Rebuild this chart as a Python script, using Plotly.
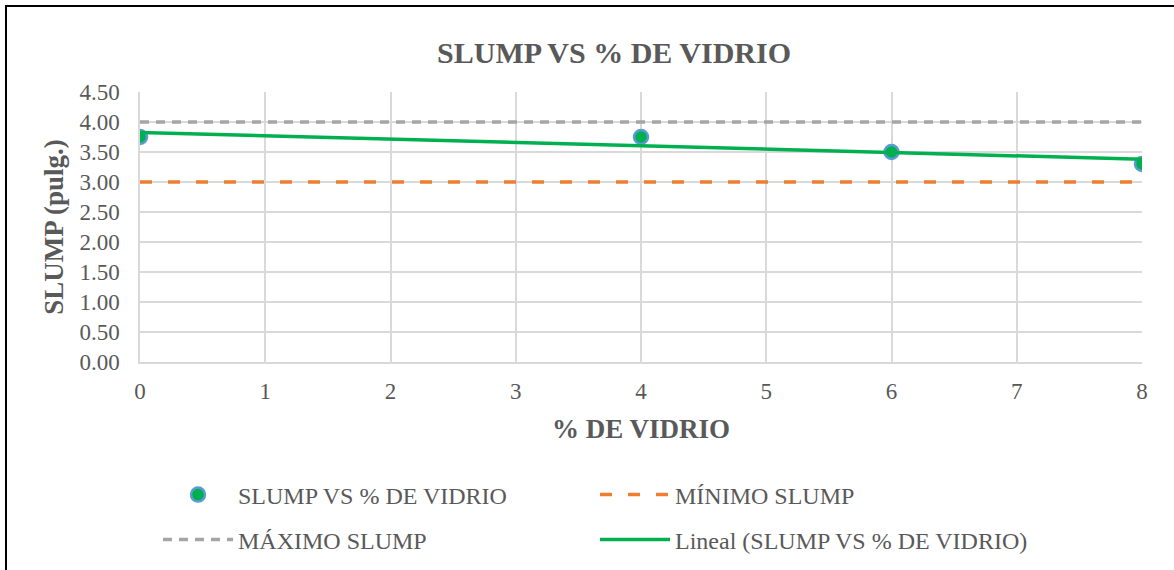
import numpy as np
import plotly.graph_objects as go

# Data
vidrio = [0, 4, 6, 8]
slump = [3.75, 3.75, 3.5, 3.3]
limit_x = [0, 8]
min_slump = [3.0, 3.0]
max_slump = [4.0, 4.0]
y_ticks = [0, 0.5, 1.0, 1.5, 2.0, 2.5, 3.0, 3.5, 4.0, 4.5]
x_ticks = [0, 1, 2, 3, 4, 5, 6, 7, 8]

# Linear trendline from the data
coef = np.polyfit(vidrio, slump, 1)
trend_x = [0, 8]
trend_y = list(np.polyval(coef, trend_x))

W, H = 1174, 570
L, R, T, B = 140, 32, 92, 208
pw, ph = W - L - R, H - T - B

FONT = "Liberation Serif, Times New Roman, serif"
TXT = "#595959"

fig = go.Figure()
fig.add_trace(go.Scatter(
    x=vidrio, y=slump, mode="markers", name="SLUMP VS % DE VIDRIO", legend="legend",
    marker=dict(size=14, color="#00B050", line=dict(color="#5B9BD5", width=2.5)),
))
fig.add_trace(go.Scatter(
    x=limit_x, y=min_slump, mode="lines", name="MÍNIMO SLUMP", legend="legend",
    line=dict(color="#ED7D31", width=3.5, dash="12px,16px"),
))
fig.add_trace(go.Scatter(
    x=limit_x, y=max_slump, mode="lines", name="MÁXIMO SLUMP", legend="legend2",
    line=dict(color="#A5A5A5", width=3.5, dash="9px,7px"),
))
fig.add_trace(go.Scatter(
    x=trend_x, y=trend_y, mode="lines", name="Lineal (SLUMP VS % DE VIDRIO)", legend="legend2",
    line=dict(color="#00B050", width=3.5),
))

# outer frame
fig.add_shape(
    type="rect", xref="paper", yref="paper",
    x0=(6 - L) / pw, x1=(W + 20 - L) / pw,
    y0=(H - B - (H + 20)) / ph, y1=(H - B - 6) / ph,
    line=dict(color="black", width=2), layer="below",
)

leg_common = dict(
    orientation="h", xref="container", yref="container",
    x=158 / W, xanchor="left", yanchor="middle",
    entrywidth=352, entrywidthmode="pixels", itemwidth=70,
    font=dict(size=24, color=TXT, family=FONT), bgcolor="rgba(0,0,0,0)",
)

fig.update_layout(
    width=W, height=H,
    margin=dict(l=L, r=R, t=T, b=B, autoexpand=False),
    paper_bgcolor="white", plot_bgcolor="white",
    font=dict(family=FONT, color=TXT, size=23),
    title=dict(text="<b>SLUMP VS % DE VIDRIO</b>", x=614 / W, xanchor="center",
               y=1 - 52 / H, yanchor="middle", font=dict(size=30, color=TXT, family=FONT)),
    xaxis=dict(
        range=[0, 8], tickvals=x_ticks, showgrid=True, gridcolor="#D9D9D9", gridwidth=1.5,
        zeroline=False, showline=True, linecolor="#D9D9D9", linewidth=1.5,
        ticks="", tickfont=dict(size=23, color=TXT), ticklabelstandoff=8,
        title=dict(text="<b>% DE VIDRIO</b>", font=dict(size=27, color=TXT), standoff=16),
    ),
    yaxis=dict(
        range=[0, 4.5], tickvals=y_ticks, tickformat=".2f", showgrid=True,
        gridcolor="#D9D9D9", gridwidth=1.5, zeroline=False, showline=True,
        linecolor="#D9D9D9", linewidth=1.5, ticks="", tickfont=dict(size=23, color=TXT),
        ticklabelstandoff=14,
        title=dict(text="<b>SLUMP (pulg.)</b>", font=dict(size=27, color=TXT), standoff=8),
    ),
    legend=dict(leg_common, y=1 - 495 / H),
    legend2=dict(leg_common, y=1 - 540 / H),
    showlegend=True,
)

fig.write_html("out.html")
